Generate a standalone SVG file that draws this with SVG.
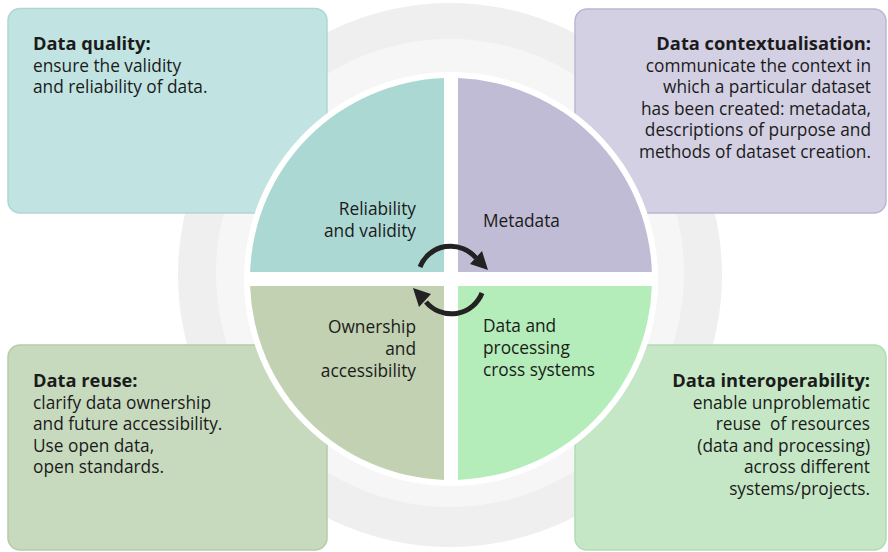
<svg xmlns="http://www.w3.org/2000/svg" width="888" height="552" viewBox="0 0 888 552">
<style>
text{font-family:"Open Sans","Noto Sans","Liberation Sans",sans-serif;fill:#1b1b1b;font-size:17.3px}
.t{font-weight:bold;font-size:18.3px}
.r{text-anchor:end}
.box{stroke-width:1.5}
.arc{fill:none;stroke:#222;stroke-width:5}
</style>
<rect width="888" height="552" fill="#ffffff"/>
<g id="rings">
<circle cx="450" cy="275" r="272" fill="#efefef"/>
<circle cx="450" cy="273" r="234" fill="#f6f6f6"/>
</g>
<g id="box-quality">
<rect class="box" x="8" y="8.5" width="319" height="204.5" rx="12" fill="#c1e4e2" stroke="#aed6d3"/>
<text class="t" x="33" y="50">Data quality:</text>
<text x="33" y="71.5">ensure the validity</text>
<text x="33" y="93">and reliability of data.</text>
</g>
<g id="box-context">
<rect class="box" x="575" y="9" width="311" height="204" rx="12" fill="#d3d0e3" stroke="#bab6cf"/>
<text class="t r" x="871" y="50">Data contextualisation:</text>
<text class="r" x="871" y="71.5">communicate the context in</text>
<text class="r" x="871" y="93">which a particular dataset</text>
<text class="r" x="871" y="114.5">has been created: metadata,</text>
<text class="r" x="871" y="136">descriptions of purpose and</text>
<text class="r" x="871" y="157.5">methods of dataset creation.</text>
</g>
<g id="box-reuse">
<rect class="box" x="8" y="345" width="319" height="205" rx="12" fill="#c7dabe" stroke="#b5cbaa"/>
<text class="t" x="33" y="387">Data reuse:</text>
<text x="33" y="408.5">clarify data ownership</text>
<text x="33" y="430">and future accessibility.</text>
<text x="33" y="451.5">Use open data,</text>
<text x="33" y="473">open standards.</text>
</g>
<g id="box-interop">
<rect class="box" x="575" y="345" width="311" height="205" rx="12" fill="#c5e7c6" stroke="#b1dbb2"/>
<text class="t r" x="870" y="387">Data interoperability:</text>
<text class="r" x="870" y="408.5">enable unproblematic</text>
<text class="r" x="870" y="430" xml:space="preserve">reuse  of resources</text>
<text class="r" x="870" y="451.5">(data and processing)</text>
<text class="r" x="870" y="473">across different</text>
<text class="r" x="870" y="494.5">systems/projects.</text>
</g>
<circle cx="451" cy="279" r="207" fill="#ffffff"/>
<g id="q-reliability">
<path d="M444 272 L444 78.1 A201 201 0 0 0 250.1 272 Z" fill="#acd8d4"/>
<text class="r" x="416" y="215">Reliability</text>
<text class="r" x="416" y="237">and validity</text>
</g>
<g id="q-metadata">
<path d="M458 272 L458 78.1 A201 201 0 0 1 651.9 272 Z" fill="#c1bcd5"/>
<text x="483" y="227">Metadata</text>
</g>
<g id="q-ownership">
<path d="M444 286 L444 479.9 A201 201 0 0 1 250.1 286 Z" fill="#c1d1b1"/>
<text class="r" x="416" y="333">Ownership</text>
<text class="r" x="416" y="355">and</text>
<text class="r" x="416" y="377">accessibility</text>
</g>
<g id="q-processing">
<path d="M458 286 L458 479.9 A201 201 0 0 0 651.9 286 Z" fill="#b4edb9"/>
<text x="483" y="332">Data and</text>
<text x="483" y="354">processing</text>
<text x="483" y="376">cross systems</text>
</g>
<g id="connectors">
<path class="arc" d="M420 267 A33 33 0 0 1 476 258"/>
<polygon points="488,270 470,264 482,251" fill="#222"/>
<path class="arc" d="M482 293 A33 33 0 0 1 426 302"/>
<polygon points="413,288 431,294 419,307" fill="#222"/>
</g>
</svg>
